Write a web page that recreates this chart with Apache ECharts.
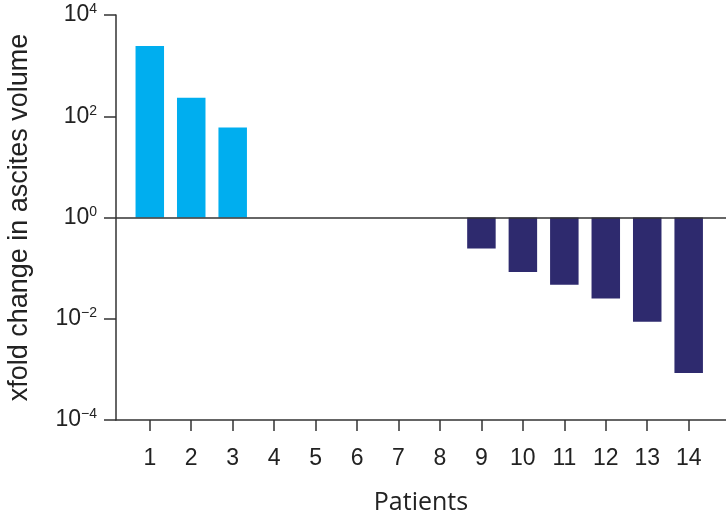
<!DOCTYPE html>
<html>
<head>
<meta charset="utf-8">
<script src="https://cdn.jsdelivr.net/npm/echarts@6/dist/echarts.min.js"></script>
<style>
html,body{margin:0;padding:0;background:#fff;}
#chart{width:726px;height:514px;}
</style>
</head>
<body>
<div id="chart"></div>
<script>
// Data
var patients = ['1','2','3','4','5','6','7','8','9','10','11','12','13','14'];
var increaseValues = [2430, 231, 60, null, null, null, null, null, null, null, null, null, null, null];
var decreaseValues = [null, null, null, null, null, null, null, null, 0.244, 0.084, 0.047, 0.025, 0.0087, 0.00085];
var yTickExponents = [-4, -2, 0, 2, 4];

var FONT = '"Liberation Sans", Arial, sans-serif';
var patientNums = patients.map(Number);

function toPairs(vals) {
  var out = [];
  vals.forEach(function (v, i) { if (v != null) out.push([patientNums[i], v]); });
  return out;
}
function supExp(e) { return (e < 0 ? '\u2212' : '') + Math.abs(e); }

var chart = echarts.init(document.getElementById('chart'), null, {renderer: 'canvas'});
chart.setOption({
  animation: false,
  grid: {left: 116, right: 0, top: 15, bottom: 94, containLabel: false, outerBoundsMode: 'none'},
  xAxis: {
    type: 'value',
    min: 0.185,
    max: 14.9,
    name: 'Patients',
    nameLocation: 'middle',
    nameGap: 70,
    nameTextStyle: {fontFamily: '"Open Sans", "Noto Sans", sans-serif', fontSize: 25, color: '#222'},
    splitLine: {show: false},
    axisLine: {show: true, onZero: false, lineStyle: {color: '#333', width: 1.5}},
    axisTick: {show: true, customValues: patientNums, length: 11, lineStyle: {color: '#333', width: 1.5}},
    axisLabel: {
      customValues: patientNums,
      margin: 27,
      fontFamily: FONT, fontSize: 23, color: '#222',
      formatter: function (v) { return String(v); }
    }
  },
  yAxis: {
    type: 'log',
    logBase: 10,
    min: 1e-4,
    max: 1e4,
    interval: 2,
    name: 'xfold change in ascites volume',
    nameLocation: 'middle',
    nameRotate: 90,
    nameGap: 83,
    nameTextStyle: {fontFamily: FONT, fontSize: 27, color: '#222'},
    splitLine: {show: false},
    axisLine: {show: true, lineStyle: {color: '#333', width: 1.5}},
    axisTick: {show: true, length: 12, lineStyle: {color: '#333', width: 1.5}},
    axisLabel: {
      margin: 19,
      formatter: function (v) {
        var e = Math.round(Math.log10(v));
        return '{b|10}{s|' + supExp(e) + '}';
      },
      rich: {
        b: {fontFamily: FONT, fontSize: 23, color: '#222'},
        s: {fontFamily: FONT, fontSize: 14, color: '#222', verticalAlign: 'bottom', padding: [0, 0, 11, 0]}
      }
    }
  },
  series: [
    {
      type: 'bar',
      data: toPairs(increaseValues),
      barWidth: 28.5,
      itemStyle: {color: '#00AEEF'},
      markLine: {
        silent: true,
        symbol: ['none', 'none'],
        label: {show: false},
        lineStyle: {color: '#333', width: 1.5, type: 'solid'},
        data: [{yAxis: 1}]
      }
    },
    {
      type: 'bar',
      data: toPairs(decreaseValues),
      barWidth: 28.5,
      barGap: '-100%',
      itemStyle: {color: '#2E2A6E'}
    }
  ]
});
</script>
</body>
</html>
